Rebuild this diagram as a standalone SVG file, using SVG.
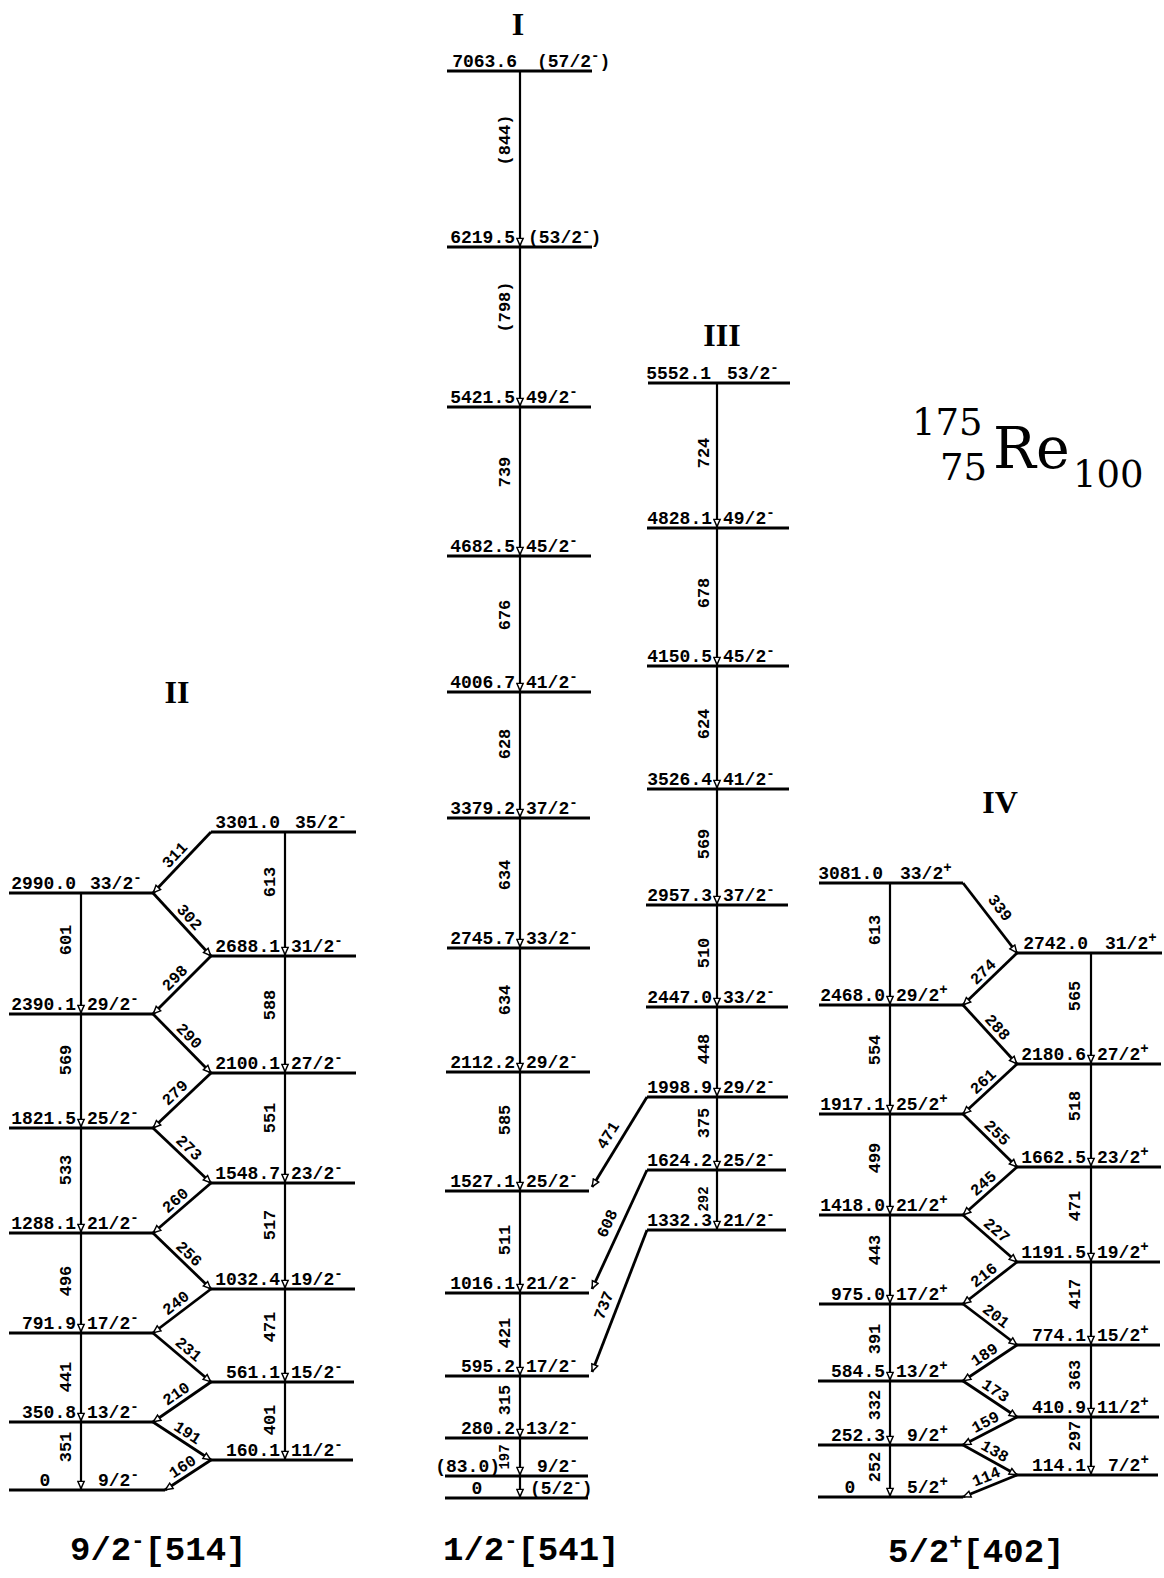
<svg xmlns="http://www.w3.org/2000/svg" width="1164" height="1578" viewBox="0 0 1164 1578">
<defs>
<marker id="a" viewBox="0 0 10 10" refX="10" refY="5" markerWidth="9" markerHeight="9" markerUnits="userSpaceOnUse" orient="auto">
<path d="M1.5,1.5 L9.5,5 L1.5,8.5 Z" fill="#fff" stroke="#000" stroke-width="1.6"/>
</marker>
<style>
.lv{stroke:#000;stroke-width:3}
.tr{stroke:#000;stroke-width:2.2;fill:none;marker-end:url(#a)}
.dg{stroke:#000;stroke-width:2.8;fill:none;marker-end:url(#a)}
text{font-family:"Liberation Mono","DejaVu Sans Mono",monospace;font-weight:bold;font-size:18px;fill:#000}
.e{text-anchor:end}
.m{text-anchor:middle}
.tl{text-anchor:middle;font-size:17px}
.dl{text-anchor:middle;font-size:16px}
.sm{font-size:14px}
.sp{font-size:14px}
.bn{font-family:"Liberation Serif","Times New Roman",serif;font-size:32px;text-anchor:middle}
.ti{font-family:"DejaVu Serif",serif;font-weight:normal;font-size:37px}
.tb{font-size:57px}
.bot{font-family:"Liberation Mono","Courier New",monospace;font-size:34px;font-weight:bold}
.bsp{font-size:22px}
</style>
</defs>
<rect width="1164" height="1578" fill="#fff"/>

<g id="title">
<text class="ti" x="912" y="435">175</text>
<text class="ti" x="940" y="480">75</text>
<text class="ti tb" x="993" y="468">Re</text>
<text class="ti" x="1073" y="487">100</text>
</g>
<g id="band-names">
<text class="bn" x="518" y="35">I</text>
<text class="bn" x="177" y="703">II</text>
<text class="bn" x="722" y="346">III</text>
<text class="bn" x="1000" y="813">IV</text>
</g>
<g id="band-configs">
<text class="bot" x="70" y="1560">9/2<tspan class="bsp" dy="-13">-</tspan><tspan dy="13">[514]</tspan></text>
<text class="bot" x="443" y="1560">1/2<tspan class="bsp" dy="-13">-</tspan><tspan dy="13">[541]</tspan></text>
<text class="bot" x="888" y="1562">5/2<tspan class="bsp" dy="-13">+</tspan><tspan dy="13">[402]</tspan></text>
</g>

<g id="I-7063"><line class="lv" x1="447" y1="71" x2="592" y2="71"/><text class="e" x="517" y="67">7063.6</text><text x="537" y="67">(57/2<tspan class="sp" dy="-7">-</tspan><tspan dy="7">)</tspan></text></g>
<g id="I-6219"><line class="lv" x1="447" y1="247" x2="592" y2="247"/><text class="e" x="515" y="243">6219.5</text><text x="528" y="243">(53/2<tspan class="sp" dy="-7">-</tspan><tspan dy="7">)</tspan></text></g>
<g id="I-5421"><line class="lv" x1="447" y1="407" x2="591" y2="407"/><text class="e" x="515" y="403">5421.5</text><text x="526" y="403">49/2<tspan class="sp" dy="-7">-</tspan></text></g>
<g id="I-4682"><line class="lv" x1="447" y1="556" x2="591" y2="556"/><text class="e" x="515" y="552">4682.5</text><text x="526" y="552">45/2<tspan class="sp" dy="-7">-</tspan></text></g>
<g id="I-4006"><line class="lv" x1="447" y1="692" x2="591" y2="692"/><text class="e" x="515" y="688">4006.7</text><text x="526" y="688">41/2<tspan class="sp" dy="-7">-</tspan></text></g>
<g id="I-3379"><line class="lv" x1="447" y1="818" x2="590" y2="818"/><text class="e" x="515" y="814">3379.2</text><text x="526" y="814">37/2<tspan class="sp" dy="-7">-</tspan></text></g>
<g id="I-2745"><line class="lv" x1="447" y1="948" x2="590" y2="948"/><text class="e" x="515" y="944">2745.7</text><text x="526" y="944">33/2<tspan class="sp" dy="-7">-</tspan></text></g>
<g id="I-2112"><line class="lv" x1="446" y1="1072" x2="590" y2="1072"/><text class="e" x="515" y="1068">2112.2</text><text x="526" y="1068">29/2<tspan class="sp" dy="-7">-</tspan></text></g>
<g id="I-1527"><line class="lv" x1="445" y1="1191" x2="589" y2="1191"/><text class="e" x="515" y="1187">1527.1</text><text x="526" y="1187">25/2<tspan class="sp" dy="-7">-</tspan></text></g>
<g id="I-1016"><line class="lv" x1="445" y1="1293" x2="589" y2="1293"/><text class="e" x="515" y="1289">1016.1</text><text x="526" y="1289">21/2<tspan class="sp" dy="-7">-</tspan></text></g>
<g id="I-595"><line class="lv" x1="445" y1="1376" x2="589" y2="1376"/><text class="e" x="515" y="1372">595.2</text><text x="526" y="1372">17/2<tspan class="sp" dy="-7">-</tspan></text></g>
<g id="I-280"><line class="lv" x1="445" y1="1438" x2="588" y2="1438"/><text class="e" x="515" y="1434">280.2</text><text x="526" y="1434">13/2<tspan class="sp" dy="-7">-</tspan></text></g>
<g id="I-83"><line class="lv" x1="445" y1="1476" x2="588" y2="1476"/><text class="e" x="500" y="1472">(83.0)</text><text x="537" y="1472">9/2<tspan class="sp" dy="-7">-</tspan></text></g>
<g id="I-0"><line class="lv" x1="445" y1="1498" x2="588" y2="1498"/><text class="m" x="477" y="1494">0</text><text x="530" y="1494">(5/2<tspan class="sp" dy="-7">-</tspan><tspan dy="7">)</tspan></text></g>

<g id="III-5552"><line class="lv" x1="648" y1="383" x2="790" y2="383"/><text class="e" x="711" y="379">5552.1</text><text x="727" y="379">53/2<tspan class="sp" dy="-7">-</tspan></text></g>
<g id="III-4828"><line class="lv" x1="647" y1="528" x2="789" y2="528"/><text class="e" x="712" y="524">4828.1</text><text x="723" y="524">49/2<tspan class="sp" dy="-7">-</tspan></text></g>
<g id="III-4150"><line class="lv" x1="647" y1="666" x2="789" y2="666"/><text class="e" x="712" y="662">4150.5</text><text x="723" y="662">45/2<tspan class="sp" dy="-7">-</tspan></text></g>
<g id="III-3526"><line class="lv" x1="647" y1="789" x2="789" y2="789"/><text class="e" x="712" y="785">3526.4</text><text x="723" y="785">41/2<tspan class="sp" dy="-7">-</tspan></text></g>
<g id="III-2957"><line class="lv" x1="646" y1="905" x2="788" y2="905"/><text class="e" x="712" y="901">2957.3</text><text x="723" y="901">37/2<tspan class="sp" dy="-7">-</tspan></text></g>
<g id="III-2447"><line class="lv" x1="646" y1="1007" x2="788" y2="1007"/><text class="e" x="712" y="1003">2447.0</text><text x="723" y="1003">33/2<tspan class="sp" dy="-7">-</tspan></text></g>
<g id="III-1998"><line class="lv" x1="647" y1="1097" x2="788" y2="1097"/><text class="e" x="712" y="1093">1998.9</text><text x="723" y="1093">29/2<tspan class="sp" dy="-7">-</tspan></text></g>
<g id="III-1624"><line class="lv" x1="647" y1="1170" x2="786" y2="1170"/><text class="e" x="712" y="1166">1624.2</text><text x="723" y="1166">25/2<tspan class="sp" dy="-7">-</tspan></text></g>
<g id="III-1332"><line class="lv" x1="647" y1="1230" x2="786" y2="1230"/><text class="e" x="712" y="1226">1332.3</text><text x="723" y="1226">21/2<tspan class="sp" dy="-7">-</tspan></text></g>

<g id="II-2990"><line class="lv" x1="9" y1="893" x2="153" y2="893"/><text class="e" x="76" y="889">2990.0</text><text x="90" y="889">33/2<tspan class="sp" dy="-7">-</tspan></text></g>
<g id="II-2390"><line class="lv" x1="9" y1="1014" x2="153" y2="1014"/><text class="e" x="76" y="1010">2390.1</text><text x="87" y="1010">29/2<tspan class="sp" dy="-7">-</tspan></text></g>
<g id="II-1821"><line class="lv" x1="9" y1="1128" x2="153" y2="1128"/><text class="e" x="76" y="1124">1821.5</text><text x="87" y="1124">25/2<tspan class="sp" dy="-7">-</tspan></text></g>
<g id="II-1288"><line class="lv" x1="9" y1="1233" x2="153" y2="1233"/><text class="e" x="76" y="1229">1288.1</text><text x="87" y="1229">21/2<tspan class="sp" dy="-7">-</tspan></text></g>
<g id="II-791"><line class="lv" x1="9" y1="1333" x2="153" y2="1333"/><text class="e" x="76" y="1329">791.9</text><text x="87" y="1329">17/2<tspan class="sp" dy="-7">-</tspan></text></g>
<g id="II-350"><line class="lv" x1="9" y1="1422" x2="153" y2="1422"/><text class="e" x="76" y="1418">350.8</text><text x="87" y="1418">13/2<tspan class="sp" dy="-7">-</tspan></text></g>
<g id="II-0"><line class="lv" x1="9" y1="1490" x2="165" y2="1490"/><text class="m" x="45" y="1486">0</text><text x="98" y="1486">9/2<tspan class="sp" dy="-7">-</tspan></text></g>
<g id="II-3301"><line class="lv" x1="211" y1="832" x2="356" y2="832"/><text class="e" x="280" y="828">3301.0</text><text x="295" y="828">35/2<tspan class="sp" dy="-7">-</tspan></text></g>
<g id="II-2688"><line class="lv" x1="211" y1="956" x2="356" y2="956"/><text class="e" x="280" y="952">2688.1</text><text x="291" y="952">31/2<tspan class="sp" dy="-7">-</tspan></text></g>
<g id="II-2100"><line class="lv" x1="211" y1="1073" x2="356" y2="1073"/><text class="e" x="280" y="1069">2100.1</text><text x="291" y="1069">27/2<tspan class="sp" dy="-7">-</tspan></text></g>
<g id="II-1548"><line class="lv" x1="211" y1="1183" x2="355" y2="1183"/><text class="e" x="280" y="1179">1548.7</text><text x="291" y="1179">23/2<tspan class="sp" dy="-7">-</tspan></text></g>
<g id="II-1032"><line class="lv" x1="211" y1="1289" x2="355" y2="1289"/><text class="e" x="280" y="1285">1032.4</text><text x="291" y="1285">19/2<tspan class="sp" dy="-7">-</tspan></text></g>
<g id="II-561"><line class="lv" x1="211" y1="1382" x2="354" y2="1382"/><text class="e" x="280" y="1378">561.1</text><text x="291" y="1378">15/2<tspan class="sp" dy="-7">-</tspan></text></g>
<g id="II-160"><line class="lv" x1="211" y1="1460" x2="353" y2="1460"/><text class="e" x="280" y="1456">160.1</text><text x="291" y="1456">11/2<tspan class="sp" dy="-7">-</tspan></text></g>

<g id="IV-3081"><line class="lv" x1="819" y1="883" x2="963" y2="883"/><text class="e" x="883" y="879">3081.0</text><text x="900" y="879">33/2<tspan class="sp" dy="-7">+</tspan></text></g>
<g id="IV-2468"><line class="lv" x1="819" y1="1005" x2="963" y2="1005"/><text class="e" x="885" y="1001">2468.0</text><text x="896" y="1001">29/2<tspan class="sp" dy="-7">+</tspan></text></g>
<g id="IV-1917"><line class="lv" x1="819" y1="1114" x2="963" y2="1114"/><text class="e" x="885" y="1110">1917.1</text><text x="896" y="1110">25/2<tspan class="sp" dy="-7">+</tspan></text></g>
<g id="IV-1418"><line class="lv" x1="819" y1="1215" x2="963" y2="1215"/><text class="e" x="885" y="1211">1418.0</text><text x="896" y="1211">21/2<tspan class="sp" dy="-7">+</tspan></text></g>
<g id="IV-975"><line class="lv" x1="819" y1="1304" x2="963" y2="1304"/><text class="e" x="885" y="1300">975.0</text><text x="896" y="1300">17/2<tspan class="sp" dy="-7">+</tspan></text></g>
<g id="IV-584"><line class="lv" x1="818" y1="1381" x2="963" y2="1381"/><text class="e" x="885" y="1377">584.5</text><text x="896" y="1377">13/2<tspan class="sp" dy="-7">+</tspan></text></g>
<g id="IV-252"><line class="lv" x1="818" y1="1445" x2="963" y2="1445"/><text class="e" x="885" y="1441">252.3</text><text x="907" y="1441">9/2<tspan class="sp" dy="-7">+</tspan></text></g>
<g id="IV-0"><line class="lv" x1="818" y1="1497" x2="963" y2="1497"/><text class="m" x="850" y="1493">0</text><text x="907" y="1493">5/2<tspan class="sp" dy="-7">+</tspan></text></g>
<g id="IV-2742"><line class="lv" x1="1017" y1="953" x2="1162" y2="953"/><text class="e" x="1088" y="949">2742.0</text><text x="1105" y="949">31/2<tspan class="sp" dy="-7">+</tspan></text></g>
<g id="IV-2180"><line class="lv" x1="1017" y1="1064" x2="1161" y2="1064"/><text class="e" x="1086" y="1060">2180.6</text><text x="1097" y="1060">27/2<tspan class="sp" dy="-7">+</tspan></text></g>
<g id="IV-1662"><line class="lv" x1="1017" y1="1167" x2="1161" y2="1167"/><text class="e" x="1086" y="1163">1662.5</text><text x="1097" y="1163">23/2<tspan class="sp" dy="-7">+</tspan></text></g>
<g id="IV-1191"><line class="lv" x1="1017" y1="1262" x2="1160" y2="1262"/><text class="e" x="1086" y="1258">1191.5</text><text x="1097" y="1258">19/2<tspan class="sp" dy="-7">+</tspan></text></g>
<g id="IV-774"><line class="lv" x1="1017" y1="1345" x2="1160" y2="1345"/><text class="e" x="1086" y="1341">774.1</text><text x="1097" y="1341">15/2<tspan class="sp" dy="-7">+</tspan></text></g>
<g id="IV-410"><line class="lv" x1="1016" y1="1417" x2="1159" y2="1417"/><text class="e" x="1086" y="1413">410.9</text><text x="1097" y="1413">11/2<tspan class="sp" dy="-7">+</tspan></text></g>
<g id="IV-114"><line class="lv" x1="1016" y1="1475" x2="1158" y2="1475"/><text class="e" x="1086" y="1471">114.1</text><text x="1108" y="1471">7/2<tspan class="sp" dy="-7">+</tspan></text></g>

<g id="connectors">
<line class="tr" x1="520" y1="71" x2="520" y2="246"/>
<line class="tr" x1="520" y1="247" x2="520" y2="406"/>
<line class="tr" x1="520" y1="407" x2="520" y2="555"/>
<line class="tr" x1="520" y1="556" x2="520" y2="691"/>
<line class="tr" x1="520" y1="692" x2="520" y2="817"/>
<line class="tr" x1="520" y1="818" x2="520" y2="947"/>
<line class="tr" x1="520" y1="948" x2="520" y2="1071"/>
<line class="tr" x1="520" y1="1072" x2="520" y2="1190"/>
<line class="tr" x1="520" y1="1191" x2="520" y2="1292"/>
<line class="tr" x1="520" y1="1293" x2="520" y2="1375"/>
<line class="tr" x1="520" y1="1376" x2="520" y2="1437"/>
<line class="tr" x1="520" y1="1438" x2="520" y2="1475"/>
<line class="tr" x1="520" y1="1476" x2="520" y2="1497"/>
<text class="tl" transform="translate(510,140) rotate(-90)">(844)</text>
<text class="tl" transform="translate(510,307) rotate(-90)">(798)</text>
<text class="tl" transform="translate(510,472) rotate(-90)">739</text>
<text class="tl" transform="translate(510,615) rotate(-90)">676</text>
<text class="tl" transform="translate(510,744) rotate(-90)">628</text>
<text class="tl" transform="translate(510,875) rotate(-90)">634</text>
<text class="tl" transform="translate(510,1000) rotate(-90)">634</text>
<text class="tl" transform="translate(510,1120) rotate(-90)">585</text>
<text class="tl" transform="translate(510,1240) rotate(-90)">511</text>
<text class="tl" transform="translate(510,1333) rotate(-90)">421</text>
<text class="tl" transform="translate(510,1400) rotate(-90)">315</text>
<text class="tl sm" transform="translate(509,1457) rotate(-90)">197</text>
<line class="tr" x1="717" y1="383" x2="717" y2="527"/>
<line class="tr" x1="717" y1="528" x2="717" y2="665"/>
<line class="tr" x1="717" y1="666" x2="717" y2="788"/>
<line class="tr" x1="717" y1="789" x2="717" y2="904"/>
<line class="tr" x1="717" y1="905" x2="717" y2="1006"/>
<line class="tr" x1="717" y1="1007" x2="717" y2="1096"/>
<line class="tr" x1="717" y1="1097" x2="717" y2="1169"/>
<line class="tr" x1="717" y1="1170" x2="717" y2="1229"/>
<text class="tl" transform="translate(709,453) rotate(-90)">724</text>
<text class="tl" transform="translate(709,593) rotate(-90)">678</text>
<text class="tl" transform="translate(709,724) rotate(-90)">624</text>
<text class="tl" transform="translate(709,844) rotate(-90)">569</text>
<text class="tl" transform="translate(709,953) rotate(-90)">510</text>
<text class="tl" transform="translate(709,1049) rotate(-90)">448</text>
<text class="tl" transform="translate(709,1123) rotate(-90)">375</text>
<text class="tl sm" transform="translate(708,1199) rotate(-90)">292</text>
<line class="dg" x1="647" y1="1097" x2="592" y2="1187"/>
<line class="dg" x1="647" y1="1170" x2="592" y2="1289"/>
<line class="dg" x1="647" y1="1230" x2="592" y2="1372"/>
<text class="dl" y="-8" transform="translate(619,1142) rotate(-58.6)">471</text>
<text class="dl" y="-8" transform="translate(619,1229) rotate(-65.2)">608</text>
<text class="dl" y="-8" transform="translate(616,1310) rotate(-68.8)">737</text>
<line class="tr" x1="81" y1="893" x2="81" y2="1013"/>
<line class="tr" x1="81" y1="1014" x2="81" y2="1127"/>
<line class="tr" x1="81" y1="1128" x2="81" y2="1232"/>
<line class="tr" x1="81" y1="1233" x2="81" y2="1332"/>
<line class="tr" x1="81" y1="1333" x2="81" y2="1421"/>
<line class="tr" x1="81" y1="1422" x2="81" y2="1489"/>
<line class="tr" x1="285" y1="832" x2="285" y2="955"/>
<line class="tr" x1="285" y1="956" x2="285" y2="1072"/>
<line class="tr" x1="285" y1="1073" x2="285" y2="1182"/>
<line class="tr" x1="285" y1="1183" x2="285" y2="1288"/>
<line class="tr" x1="285" y1="1289" x2="285" y2="1381"/>
<line class="tr" x1="285" y1="1382" x2="285" y2="1459"/>
<text class="tl" transform="translate(71,940) rotate(-90)">601</text>
<text class="tl" transform="translate(71,1060) rotate(-90)">569</text>
<text class="tl" transform="translate(71,1170) rotate(-90)">533</text>
<text class="tl" transform="translate(71,1281) rotate(-90)">496</text>
<text class="tl" transform="translate(71,1377) rotate(-90)">441</text>
<text class="tl" transform="translate(71,1447) rotate(-90)">351</text>
<text class="tl" transform="translate(275,882) rotate(-90)">613</text>
<text class="tl" transform="translate(275,1005) rotate(-90)">588</text>
<text class="tl" transform="translate(275,1118) rotate(-90)">551</text>
<text class="tl" transform="translate(275,1225) rotate(-90)">517</text>
<text class="tl" transform="translate(275,1327) rotate(-90)">471</text>
<text class="tl" transform="translate(275,1420) rotate(-90)">401</text>
<line class="dg" x1="211" y1="832" x2="153" y2="893"/>
<line class="dg" x1="153" y1="893" x2="211" y2="956"/>
<line class="dg" x1="211" y1="956" x2="153" y2="1014"/>
<line class="dg" x1="153" y1="1014" x2="211" y2="1073"/>
<line class="dg" x1="211" y1="1073" x2="153" y2="1128"/>
<line class="dg" x1="153" y1="1128" x2="211" y2="1183"/>
<line class="dg" x1="211" y1="1183" x2="153" y2="1233"/>
<line class="dg" x1="153" y1="1233" x2="211" y2="1289"/>
<line class="dg" x1="211" y1="1289" x2="153" y2="1333"/>
<line class="dg" x1="153" y1="1333" x2="211" y2="1382"/>
<line class="dg" x1="211" y1="1382" x2="153" y2="1422"/>
<line class="dg" x1="153" y1="1422" x2="211" y2="1460"/>
<line class="dg" x1="211" y1="1460" x2="165" y2="1490"/>
<text class="dl" y="-5" transform="translate(182,862) rotate(-46.4)">311</text>
<text class="dl" y="-5" transform="translate(182,924) rotate(47.4)">302</text>
<text class="dl" y="-5" transform="translate(182,985) rotate(-45)">298</text>
<text class="dl" y="-5" transform="translate(182,1043) rotate(45.5)">290</text>
<text class="dl" y="-5" transform="translate(182,1100) rotate(-43.5)">279</text>
<text class="dl" y="-5" transform="translate(182,1155) rotate(43.5)">273</text>
<text class="dl" y="-5" transform="translate(182,1208) rotate(-40.8)">260</text>
<text class="dl" y="-5" transform="translate(182,1261) rotate(44)">256</text>
<text class="dl" y="-5" transform="translate(182,1311) rotate(-37.2)">240</text>
<text class="dl" y="-5" transform="translate(182,1357) rotate(40.2)">231</text>
<text class="dl" y="-5" transform="translate(182,1402) rotate(-34.6)">210</text>
<text class="dl" y="-5" transform="translate(182,1441) rotate(33.2)">191</text>
<text class="dl" y="-5" transform="translate(188,1475) rotate(-33.1)">160</text>
<line class="tr" x1="890" y1="883" x2="890" y2="1004"/>
<line class="tr" x1="890" y1="1005" x2="890" y2="1113"/>
<line class="tr" x1="890" y1="1114" x2="890" y2="1214"/>
<line class="tr" x1="890" y1="1215" x2="890" y2="1303"/>
<line class="tr" x1="890" y1="1304" x2="890" y2="1380"/>
<line class="tr" x1="890" y1="1381" x2="890" y2="1444"/>
<line class="tr" x1="890" y1="1445" x2="890" y2="1496"/>
<line class="tr" x1="1091" y1="953" x2="1091" y2="1063"/>
<line class="tr" x1="1091" y1="1064" x2="1091" y2="1166"/>
<line class="tr" x1="1091" y1="1167" x2="1091" y2="1261"/>
<line class="tr" x1="1091" y1="1262" x2="1091" y2="1344"/>
<line class="tr" x1="1091" y1="1345" x2="1091" y2="1416"/>
<line class="tr" x1="1091" y1="1417" x2="1091" y2="1474"/>
<text class="tl" transform="translate(880,930) rotate(-90)">613</text>
<text class="tl" transform="translate(880,1050) rotate(-90)">554</text>
<text class="tl" transform="translate(880,1158) rotate(-90)">499</text>
<text class="tl" transform="translate(880,1250) rotate(-90)">443</text>
<text class="tl" transform="translate(880,1339) rotate(-90)">391</text>
<text class="tl" transform="translate(880,1405) rotate(-90)">332</text>
<text class="tl" transform="translate(880,1467) rotate(-90)">252</text>
<text class="tl" transform="translate(1080,996) rotate(-90)">565</text>
<text class="tl" transform="translate(1080,1106) rotate(-90)">518</text>
<text class="tl" transform="translate(1080,1206) rotate(-90)">471</text>
<text class="tl" transform="translate(1080,1294) rotate(-90)">417</text>
<text class="tl" transform="translate(1080,1375) rotate(-90)">363</text>
<text class="tl" transform="translate(1080,1436) rotate(-90)">297</text>
<line class="dg" x1="963" y1="883" x2="1017" y2="953"/>
<line class="dg" x1="1017" y1="953" x2="963" y2="1005"/>
<line class="dg" x1="963" y1="1005" x2="1017" y2="1064"/>
<line class="dg" x1="1017" y1="1064" x2="963" y2="1114"/>
<line class="dg" x1="963" y1="1114" x2="1017" y2="1167"/>
<line class="dg" x1="1017" y1="1167" x2="963" y2="1215"/>
<line class="dg" x1="963" y1="1215" x2="1017" y2="1262"/>
<line class="dg" x1="1017" y1="1262" x2="963" y2="1304"/>
<line class="dg" x1="963" y1="1304" x2="1017" y2="1345"/>
<line class="dg" x1="1017" y1="1345" x2="963" y2="1381"/>
<line class="dg" x1="963" y1="1381" x2="1017" y2="1417"/>
<line class="dg" x1="1017" y1="1417" x2="963" y2="1445"/>
<line class="dg" x1="963" y1="1445" x2="1017" y2="1475"/>
<line class="dg" x1="1017" y1="1475" x2="963" y2="1497"/>
<text class="dl" y="-5" transform="translate(992,914) rotate(52.4)">339</text>
<text class="dl" y="-5" transform="translate(990,979) rotate(-43.9)">274</text>
<text class="dl" y="-5" transform="translate(990,1034) rotate(47.5)">288</text>
<text class="dl" y="-5" transform="translate(990,1089) rotate(-42.8)">261</text>
<text class="dl" y="-5" transform="translate(990,1140) rotate(44.5)">255</text>
<text class="dl" y="-5" transform="translate(990,1191) rotate(-41.6)">245</text>
<text class="dl" y="-5" transform="translate(990,1238) rotate(41)">227</text>
<text class="dl" y="-5" transform="translate(990,1283) rotate(-37.9)">216</text>
<text class="dl" y="-5" transform="translate(990,1324) rotate(37.2)">201</text>
<text class="dl" y="-5" transform="translate(990,1363) rotate(-33.7)">189</text>
<text class="dl" y="-5" transform="translate(990,1399) rotate(33.7)">173</text>
<text class="dl" y="-5" transform="translate(990,1431) rotate(-27.4)">159</text>
<text class="dl" y="-5" transform="translate(990,1460) rotate(29.1)">138</text>
<text class="dl" y="-5" transform="translate(990,1486) rotate(-22.2)">114</text>
</g>
</svg>
